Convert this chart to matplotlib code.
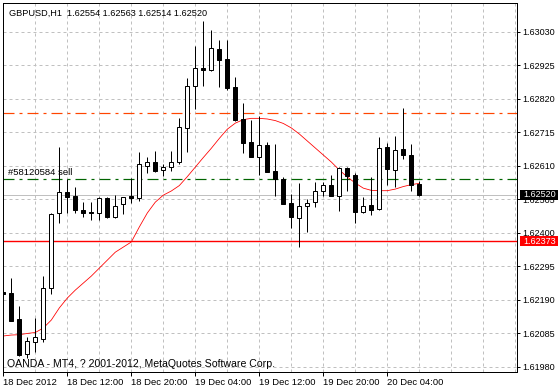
import matplotlib
matplotlib.use('Agg')
import matplotlib.pyplot as plt
from matplotlib.transforms import blended_transform_factory
from matplotlib.patches import Rectangle

plt.rcParams['lines.scale_dashes'] = False
plt.rcParams['font.family'] = ['Liberation Sans', 'DejaVu Sans']

# ---- data (GBPUSD H1) ----
opens = [1.62214, 1.62210, 1.62128, 1.62019, 1.62058, 1.62065, 1.62226, 1.62461, 1.62527, 1.62515,
         1.62471, 1.62465, 1.62461, 1.62510, 1.62448, 1.62489, 1.62516, 1.62510, 1.62610, 1.62621,
         1.62596, 1.62605, 1.62621, 1.62728, 1.62860, 1.62917, 1.62910, 1.62977, 1.62945, 1.62856,
         1.62756, 1.62684, 1.62639, 1.62674, 1.62595, 1.62569, 1.62492, 1.62445, 1.62483, 1.62495,
         1.62531, 1.62549, 1.62516, 1.62602, 1.62580, 1.62466, 1.62486, 1.62473, 1.62668, 1.62596,
         1.62662, 1.62643, 1.62554]
highs = [1.62248, 1.62257, 1.62170, 1.62074, 1.62131, 1.62264, 1.62462, 1.62669, 1.62568, 1.62544,
         1.62497, 1.62496, 1.62513, 1.62512, 1.62518, 1.62512, 1.62571, 1.62654, 1.62639, 1.62656,
         1.62615, 1.62656, 1.62759, 1.62886, 1.62986, 1.63065, 1.63036, 1.63005, 1.63005, 1.62888,
         1.62806, 1.62755, 1.62766, 1.62685, 1.62678, 1.62576, 1.62521, 1.62556, 1.62505, 1.62559,
         1.62559, 1.62581, 1.62605, 1.62605, 1.62586, 1.62511, 1.62574, 1.62699, 1.62681, 1.62704,
         1.62790, 1.62678, 1.62563]
lows = [1.62145, 1.62123, 1.62012, 1.62008, 1.62027, 1.62058, 1.62208, 1.62431, 1.62463, 1.62461,
        1.62450, 1.62440, 1.62440, 1.62446, 1.62445, 1.62459, 1.62494, 1.62500, 1.62586, 1.62592,
        1.62579, 1.62594, 1.62617, 1.62652, 1.62788, 1.62861, 1.62909, 1.62856, 1.62848, 1.62751,
        1.62649, 1.62638, 1.62581, 1.62592, 1.62515, 1.62489, 1.62416, 1.62354, 1.62401, 1.62482,
        1.62515, 1.62516, 1.62469, 1.62532, 1.62431, 1.62463, 1.62456, 1.62471, 1.62549, 1.62543,
        1.62632, 1.62532, 1.62514]
closes = [1.62208, 1.62124, 1.62016, 1.62059, 1.62072, 1.62226, 1.62459, 1.62527, 1.62513, 1.62471,
          1.62461, 1.62463, 1.62508, 1.62450, 1.62483, 1.62511, 1.62510, 1.62615, 1.62621, 1.62595,
          1.62605, 1.62621, 1.62731, 1.62860, 1.62917, 1.62910, 1.62979, 1.62942, 1.62853, 1.62754,
          1.62682, 1.62639, 1.62674, 1.62592, 1.62568, 1.62489, 1.62450, 1.62483, 1.62492, 1.62530,
          1.62549, 1.62516, 1.62602, 1.62579, 1.62466, 1.62483, 1.62472, 1.62665, 1.62599, 1.62659,
          1.62645, 1.62551, 1.62520]
ma_values = [1.62076, 1.62079, 1.62080, 1.62084, 1.62087, 1.62101, 1.62126, 1.62164, 1.62195, 1.62220,
             1.62242, 1.62264, 1.62289, 1.62314, 1.62339, 1.62355, 1.62371, 1.62418, 1.62462, 1.62496,
             1.62518, 1.62531, 1.62548, 1.62576, 1.62606, 1.62636, 1.62665, 1.62696, 1.62725, 1.62744,
             1.62755, 1.62759, 1.62759, 1.62757, 1.62752, 1.62743, 1.62729, 1.62710, 1.62688, 1.62666,
             1.62644, 1.62622, 1.62597, 1.62575, 1.62556, 1.62540, 1.62533, 1.62532, 1.62532, 1.62537,
             1.62545, 1.62551, 1.62555]

xtick_bars = [0, 8, 16, 24, 32, 40, 48]
xtick_labels = ["18 Dec 2012", "18 Dec 12:00", "18 Dec 20:00", "19 Dec 04:00",
                "19 Dec 12:00", "19 Dec 20:00", "20 Dec 04:00"]
ytick_values = [1.61980, 1.62085, 1.62190, 1.62295, 1.62400, 1.62505,
                1.62610, 1.62715, 1.62820, 1.62925, 1.63030]
ytick_labels = ["1.61980", "1.62085", "1.62190", "1.62295", "1.62400", "1.62505",
                "1.62610", "1.62715", "1.62820", "1.62925", "1.63030"]
bid_price = 1.62520
sl_price = 1.62777
order_price = 1.62568
alert_price = 1.62373
order_label = "#58120584 sell"
title_text = "GBPUSD,H1  1.62554 1.62563 1.62514 1.62520"
footer_text = "OANDA - MT4, ? 2001-2012, MetaQuotes Software Corp."

W, H = 558, 388
px = 0.72  # one pixel in points
fig = plt.figure(figsize=(W / 100, H / 100), dpi=100)
fig.patch.set_facecolor('white')
ax = fig.add_axes([3 / W, 16 / H, 514 / W, 369 / H])
ax.set_facecolor('white')
ax.set_xlim(-0.0375, 64.2125)
ax.set_ylim(1.61963, 1.63121)

grid_kw = dict(color='#C0C0C0', lw=px, dashes=(3 * px, 3 * px), zorder=0.5)
for gx in range(4, 65, 4):
    ax.axvline(gx, **grid_kw)
for gy in ytick_values:
    ax.axhline(gy, **grid_kw)

# horizontal trade lines
dashdot = (11 * px, 5 * px, 3 * px, 5 * px)
ax.axhline(sl_price, color='#FF4500', lw=1.2 * px, dashes=dashdot, zorder=1)
ax.axhline(order_price, color='#006400', lw=1.2 * px, dashes=dashdot, zorder=1)
ax.axhline(bid_price, color='#C0C0C0', lw=px, zorder=1)
ax.axhline(alert_price, color='#FF0000', lw=1.4 * px, zorder=1)

# moving average
xs = list(range(len(opens)))
ax.plot(xs, ma_values, color='#FF0000', lw=0.8 * px, zorder=2)

# candles
ax.vlines(xs, lows, highs, color='black', lw=px, zorder=3)
bottoms = [min(o, c) for o, c in zip(opens, closes)]
heights = [abs(c - o) for o, c in zip(opens, closes)]
fills = ['white' if c > o else 'black' for o, c in zip(opens, closes)]
ax.bar(xs, heights, bottom=bottoms, width=0.5, color=fills, edgecolor='black',
       linewidth=px, zorder=4)

for s in ax.spines.values():
    s.set_color('black')
    s.set_linewidth(px)

ax.set_xticks(xtick_bars)
ax.set_xticklabels(xtick_labels, ha='left')
ax.tick_params(axis='x', direction='out', length=4 * px, width=px, pad=1.5,
               labelsize=6.8, colors='black')
ax.yaxis.tick_right()
ax.set_yticks(ytick_values)
ax.set_yticklabels(ytick_labels)
ax.tick_params(axis='y', direction='out', length=3 * px, width=px, pad=2,
               labelsize=6.5, colors='black')

ax.text(6 / 514, 1 - 10 / 369, title_text, transform=ax.transAxes, fontsize=6.6,
        va='center', ha='left', zorder=6)
ax.text(4 / 514, 1 - 361 / 369, footer_text, transform=ax.transAxes, fontsize=7.6,
        va='center', ha='left', zorder=6)
ax.text(0.6, order_price + 0.00008, order_label, fontsize=6.8, va='bottom', ha='left', zorder=6)

# price labels on the right scale
bt = blended_transform_factory(fig.transFigure, ax.transData)
box_h = 10 / 31857
for price, bg in [(bid_price, 'black'), (alert_price, '#FF0000')]:
    ax.add_patch(Rectangle((520 / W, price - box_h / 2), 38 / W, box_h, transform=bt,
                           facecolor=bg, edgecolor='none', clip_on=False, zorder=10))
    ax.text(523 / W, price, f"{price:.5f}", transform=bt, color='white', fontsize=6.5,
            va='center', ha='left', clip_on=False, zorder=11)

fig.savefig('out.png', dpi=100, facecolor='white')
